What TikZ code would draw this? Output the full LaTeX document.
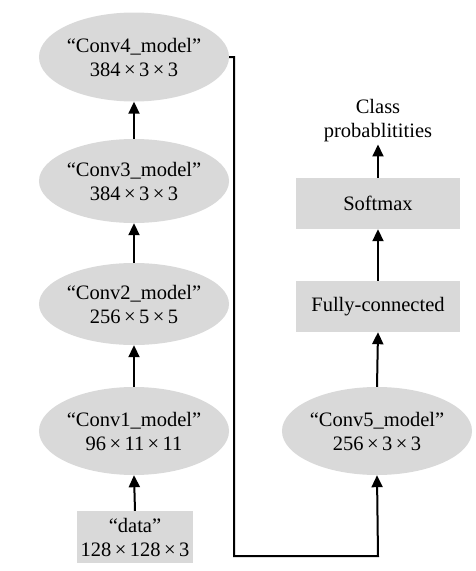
\documentclass[tikz,border=0pt]{standalone}
\usepackage{fontspec}
\setmainfont{Liberation Serif}
\usetikzlibrary{shapes.geometric,arrows.meta}
\definecolor{boxgray}{RGB}{217,217,217}
\tikzset{
  ell/.style={ellipse, fill=boxgray, inner sep=0pt, align=center, font=\fontsize{20.5}{24}\selectfont},
  rbox/.style={rectangle, fill=boxgray, inner sep=0pt, align=center, font=\fontsize{20.5}{24}\selectfont},
  conn/.style={line width=2pt, -{Triangle[length=12pt,width=11pt]}}
}
\begin{document}
\begin{tikzpicture}[x=1pt,y=-1pt]
\useasboundingbox (0,0) rectangle (475,571);
\node[ell, minimum width=168pt, minimum height=89pt] (conv4) at (134,57) {“Conv4\_model”\\384\,×\,3\,×\,3};
\node[ell, minimum width=168pt, minimum height=84pt] (conv3) at (134,181) {“Conv3\_model”\\384\,×\,3\,×\,3};
\node[ell, minimum width=164pt, minimum height=82pt] (conv2) at (134,304) {“Conv2\_model”\\256\,×\,5\,×\,5};
\node[ell, minimum width=168pt, minimum height=88pt] (conv1) at (134,431) {“Conv1\_model”\\96\,×\,11\,×\,11};
\node[rbox, minimum width=116pt, minimum height=52pt] (data) at (135,537) {“data”\\128\,×\,128\,×\,3};
\node[ell, minimum width=167pt, minimum height=88pt] (conv5) at (377,431) {“Conv5\_model”\\256\,×\,3\,×\,3};
\node[rbox, minimum width=164pt, minimum height=51pt] (fc) at (378,306.5) {Fully-connected};
\node[rbox, minimum width=164pt, minimum height=51pt] (soft) at (378,203.5) {Softmax};
\node[align=center, inner sep=2pt, font=\fontsize{20.5}{24}\selectfont] (cls) at (378,121) {Class\\probablitities};
\coordinate (turn) at (234,556);
\coordinate (bot) at (378,556);
\draw[conn] (data.north) -- (conv1.south);
\draw[conn] (conv1.north) -- (conv2.south);
\draw[conn] (conv2.north) -- (conv3.south);
\draw[conn] (conv3.north) -- (conv4.south);
\draw[conn] (conv4.east) -| (turn) -- (bot) -- (conv5.south);
\draw[conn] (conv5.north) -- (fc.south);
\draw[conn] (fc.north) -- (soft.south);
\draw[conn] (soft.north) -- (cls.south);
\end{tikzpicture}
\end{document}
